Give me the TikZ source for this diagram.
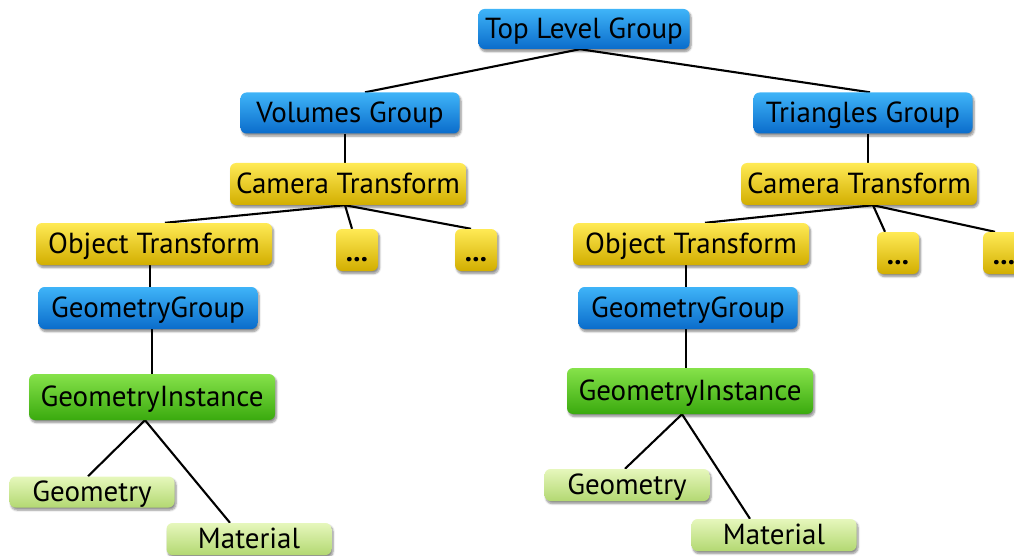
\documentclass[tikz,border=0pt]{standalone}
\usepackage{fontspec}
\setmainfont{PT Sans}
\usepackage{tikz}
\usetikzlibrary{positioning,shadows.blur,backgrounds}
\definecolor{grptop}{HTML}{3FB4F8}
\definecolor{grpbot}{HTML}{0A6CCB}
\definecolor{xftop}{HTML}{FFEA55}
\definecolor{xfbot}{HTML}{D2AE00}
\definecolor{insttop}{HTML}{86E24A}
\definecolor{instbot}{HTML}{3AAA0E}
\definecolor{leaftop}{HTML}{E6F7BC}
\definecolor{leafbot}{HTML}{B3D872}

\begin{document}
\begin{tikzpicture}[
  x=1pt,y=-1pt,
  font=\fontsize{29}{31}\selectfont,
  line/.style={draw=black,line width=2.1pt},
  box/.style={rounded corners=6pt,inner sep=0pt,text depth=0.25ex,
              blur shadow={shadow xshift=1.5pt,shadow yshift=-2.5pt,
                           shadow blur steps=6,shadow opacity=45}},
  grp/.style={box,top color=grptop,bottom color=grpbot,
              minimum width=219pt,minimum height=41pt},
  xform/.style={box,top color=xftop,bottom color=xfbot,
                minimum width=236pt,minimum height=42pt},
  more/.style={box,top color=xftop,bottom color=xfbot,font=\fontsize{29}{31}\selectfont\bfseries,
               minimum width=42pt,minimum height=42pt,text height=22pt,text depth=0pt},
  inst/.style={box,top color=insttop,bottom color=instbot,
               minimum width=246pt,minimum height=46pt},
  leaf/.style={box,top color=leaftop,bottom color=leafbot,
               minimum width=165pt,minimum height=32pt}
]
\useasboundingbox (0,0) rectangle (1014,556);
\clip (0,0) rectangle (1014,556);

\node[grp,minimum width=211pt,minimum height=40pt] (top) at (584,29) {Top Level Group};
\node[grp] (vol) at (350,113) {Volumes Group};
\node[grp] (tri) at (863,113) {Triangles Group};

% volumes branch
\node[xform] (camL) at (348,184) {Camera Transform};
\node[xform] (objL) at (154,244) {Object Transform};
\node[more] (dotsLa) at (357,250) {...};
\node[more] (dotsLb) at (476,250) {...};
\node[grp,minimum height=42pt] (ggL) at (148,308) {GeometryGroup};
\node[inst] (giL) at (152,397) {GeometryInstance};
\node[leaf,minimum height=31pt] (geoL) at (92,492) {Geometry};
\node[leaf] (matL) at (249,539) {Material};

% triangles branch
\node[xform] (camR) at (859,184) {Camera Transform};
\node[xform] (objR) at (691,244) {Object Transform};
\node[more] (dotsRa) at (898,253) {...};
\node[more] (dotsRb) at (1004,253) {...};
\node[grp,minimum height=42pt] (ggR) at (688,308) {GeometryGroup};
\node[inst] (giR) at (690,391) {GeometryInstance};
\node[leaf] (geoR) at (627,485) {Geometry};
\node[leaf] (matR) at (774,535) {Material};

\begin{pgfonlayer}{background}
\draw[line] ([xshift=-4pt]top.south) -- ([xshift=15pt]vol.north);
\draw[line] ([xshift=-4pt]top.south) -- ([xshift=7pt]tri.north);
\draw[line] ([xshift=-5pt]vol.south) -- ([xshift=-3pt]camL.north);
\draw[line] ([xshift=-3pt]camL.south) -- ([xshift=11pt]objL.north);
\draw[line] ([xshift=-3pt]camL.south) -- ([xshift=-5pt]dotsLa.north);
\draw[line] ([xshift=-3pt]camL.south) -- ([xshift=-5pt]dotsLb.north);
\draw[line] ([xshift=-4pt]objL.south) -- ([xshift=2pt]ggL.north);
\draw[line] ([xshift=4pt]ggL.south) -- (giL.north);
\draw[line] ([xshift=-7pt]giL.south) -- ([xshift=-4pt]geoL.north);
\draw[line] ([xshift=-7pt]giL.south) -- ([xshift=-19pt]matL.north);
\draw[line] ([xshift=5pt]tri.south) -- ([xshift=9pt]camR.north);
\draw[line] ([xshift=14pt]camR.south) -- ([xshift=14pt]objR.north);
\draw[line] ([xshift=14pt]camR.south) -- ([xshift=-13pt]dotsRa.north);
\draw[line] ([xshift=14pt]camR.south) -- ([xshift=-9pt]dotsRb.north);
\draw[line] ([xshift=-5pt]objR.south) -- ([xshift=-2pt]ggR.north);
\draw[line] ([xshift=-2pt]ggR.south) -- ([xshift=-4pt]giR.north);
\draw[line] ([xshift=-8pt]giR.south) -- ([xshift=-2pt]geoR.north);
\draw[line] ([xshift=-8pt]giR.south) -- ([xshift=-24pt]matR.north);
\end{pgfonlayer}
\end{tikzpicture}
\end{document}
